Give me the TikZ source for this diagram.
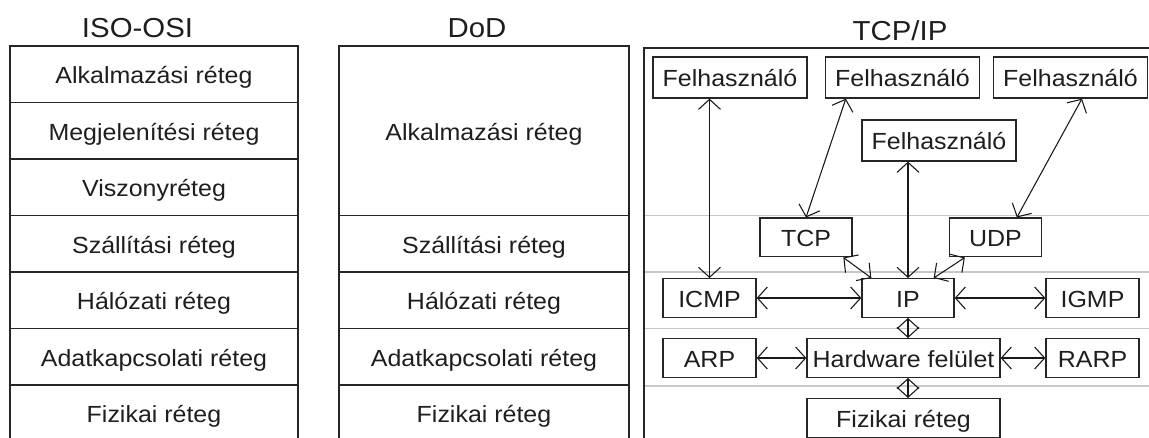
\documentclass[tikz,border=0pt]{standalone}
\usepackage{fontspec}
\setmainfont{Liberation Sans}[FakeStretch=1.07]
\usetikzlibrary{arrows.meta}

\definecolor{ink}{HTML}{1E1E1E}
\definecolor{rule}{HTML}{C8C8C8}

\begin{document}
\begin{tikzpicture}[x=0.75pt,y=-0.75pt,
  title/.style={font=\fontsize{20.6pt}{24pt}\selectfont, text=ink, anchor=base, inner sep=0pt},
  txt/.style={font=\fontsize{17.5pt}{21pt}\selectfont, text=ink, text height=15pt, text depth=1pt, inner sep=0pt},
  layer/.style={txt, draw=black!85, line width=1.1pt, minimum width=#1},
  isorow/.style={layer=216pt, minimum height=42.375pt},
  dodrow/.style={layer=217.5pt, minimum height=42.375pt},
  proto/.style={txt, draw=black!85, fill=white, line width=1pt, minimum height=#1},
  proto/.default=29pt,
  conn/.style={{Straight Barb[length=7.5pt,width=16.5pt]}-{Straight Barb[length=7.5pt,width=16.5pt]}, line width=0.8pt, draw=black!90}]

\useasboundingbox (0,0) rectangle (1149,438);

% column headings
\node[title] (tIso) at (137.5,38) {ISO-OSI};
\node[title] (tDod) at (477,38) {DoD};
\node[title] (tTcp) at (900,41) {TCP/IP};

% ISO-OSI reference model
\node[isorow] (iso1) at (154,74.25) {Alkalmazási réteg};
\node[isorow] (iso2) at (154,130.75) {Megjelenítési réteg};
\node[isorow] (iso3) at (154,187.25) {Viszonyréteg};
\node[isorow] (iso4) at (154,243.75) {Szállítási réteg};
\node[isorow] (iso5) at (154,300.25) {Hálózati réteg};
\node[isorow] (iso6) at (154,356.75) {Adatkapcsolati réteg};
\node[isorow] (iso7) at (154,413.25) {Fizikai réteg};

% DoD model
\node[layer=217.5pt, minimum height=127.125pt] (dod1) at (484,130.75) {Alkalmazási réteg};
\node[dodrow] (dod2) at (484,243.75) {Szállítási réteg};
\node[dodrow] (dod3) at (484,300.25) {Hálózati réteg};
\node[dodrow] (dod4) at (484,356.75) {Adatkapcsolati réteg};
\node[dodrow] (dod5) at (484,413.25) {Fizikai réteg};

% TCP/IP frame and layer separators
\draw[draw=black!85, line width=1.1pt] (644,460) -- (644,48) -- (1170,48);
\foreach \yy in {215.5,272,328.5,386}
  \draw[rule, line width=1pt] (645,\yy) -- (1149,\yy);

% TCP/IP protocol boxes
\node[proto=30.75pt, minimum width=115.5pt] (f1) at (730,77.5) {Felhasználó};
\node[proto=30.75pt, minimum width=115.5pt] (f2) at (902.5,77.5) {Felhasználó};
\node[proto=30.75pt, minimum width=115.5pt] (f3) at (1070.5,77.5) {Felhasználó};
\node[proto=30.75pt, minimum width=115.5pt] (f4) at (939,140.5) {Felhasználó};
\node[proto, minimum width=69pt] (tcp) at (806,237.5) {TCP};
\node[proto, minimum width=69pt] (udp) at (995.5,237.5) {UDP};
\node[proto, minimum width=69.75pt] (icmp) at (709.5,298) {ICMP};
\node[proto, minimum width=69pt] (ip) at (908,298) {IP};
\node[proto, minimum width=69.75pt] (igmp) at (1092.5,298) {IGMP};
\node[proto, minimum width=69.75pt] (arp) at (709.5,358) {ARP};
\node[proto, minimum width=144.75pt] (hw) at (903.5,358) {Hardware felület};
\node[proto, minimum width=69.75pt] (rarp) at (1092.5,358) {RARP};
\node[proto, minimum width=144.75pt] (fiz) at (903.5,418) {Fizikai réteg};

% connections between the protocols
\draw[conn] (icmp.north |- f1.south) -- (icmp.north);
\draw[conn] ([xshift=15.75pt]f2.south west) -- (tcp.north);
\draw[conn] (ip.north |- f4.south) -- (ip.north);
\draw[conn] ([xshift=8.6pt]f3.south) -- ([xshift=16pt]udp.north);
\draw[conn] ([xshift=-7pt]tcp.south east) -- ([xshift=7.5pt]ip.north west);
\draw[conn] ([xshift=12pt]udp.south west) -- ([xshift=-15.75pt]ip.north east);
\draw[conn] (icmp.east) -- (ip.west);
\draw[conn] (ip.east) -- (igmp.west);
\draw[conn] (ip.south) -- (hw.north -| ip.south);
\draw[conn] (arp.east) -- (hw.west);
\draw[conn] (hw.east) -- (rarp.west);
\draw[conn] (fiz.north -| ip.south) -- (hw.south -| ip.south);
\end{tikzpicture}
\end{document}
